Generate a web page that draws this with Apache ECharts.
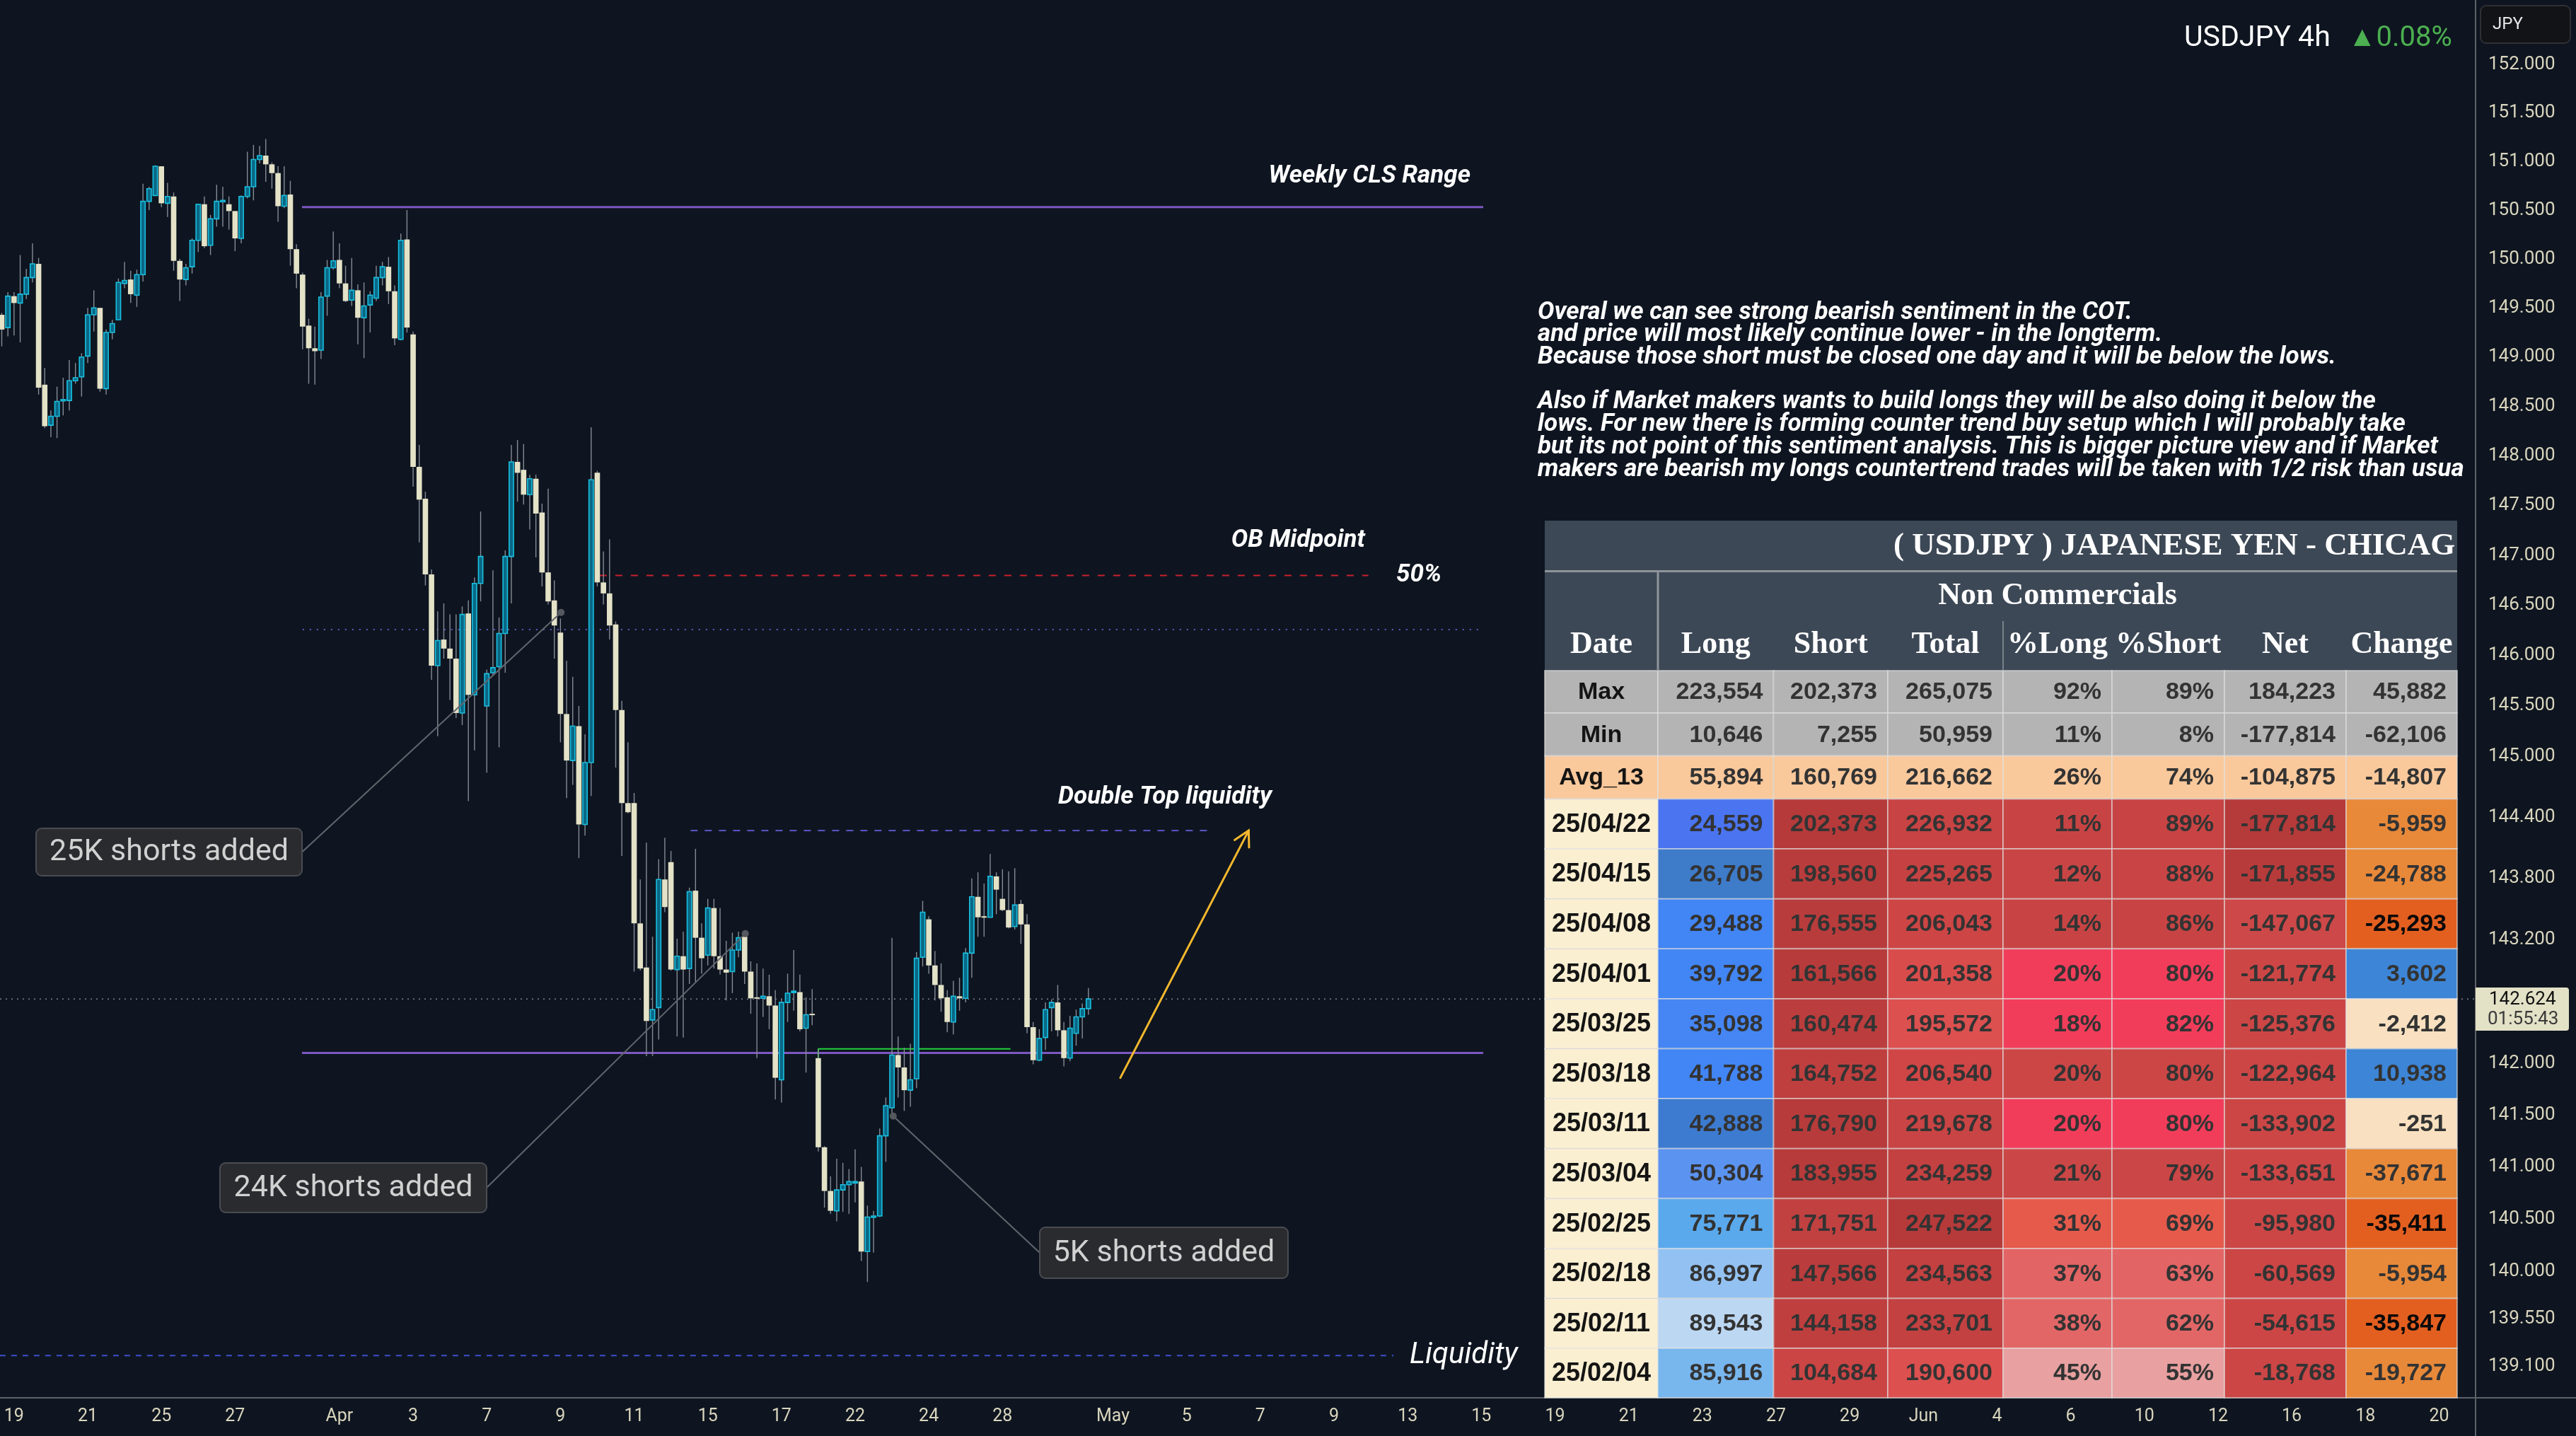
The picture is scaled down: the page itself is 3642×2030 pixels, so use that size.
<!DOCTYPE html>
<html>
<head>
<meta charset="utf-8">
<title>USDJPY 4h - COT sentiment</title>
<script src="https://cdn.jsdelivr.net/npm/echarts@6.0.0/dist/echarts.min.js"></script>
<style>
  html, body { margin: 0; padding: 0; background: #0e1520; }
  #chart { width: 3642px; height: 2030px; }
</style>
</head>
<body>
<div id="chart"></div>
<script>
// USDJPY 4h candles, oldest first
const opens = [149.43,149.30,149.62,149.55,149.64,149.81,149.95,148.72,148.31,148.40,148.56,148.56,148.76,148.80,149.01,149.43,149.50,148.68,149.25,149.38,
  149.75,149.79,149.63,149.84,150.59,150.65,150.95,150.57,150.64,149.98,149.79,149.92,150.19,150.56,150.14,150.41,150.59,150.56,150.49,150.21,
  150.64,150.74,151.02,151.06,150.97,150.88,150.54,150.66,150.10,149.84,149.32,149.09,149.07,149.62,149.91,149.99,149.75,149.58,149.68,149.40,
  149.53,149.60,149.81,149.92,149.67,149.18,150.20,149.23,147.89,147.57,146.81,145.90,146.16,146.07,145.97,145.43,146.42,145.61,146.72,145.50,
  145.83,145.89,146.22,146.99,147.94,147.86,147.61,147.77,147.43,146.83,146.55,146.23,145.42,144.96,145.30,144.33,144.94,147.83,146.73,146.62,
  146.31,145.46,144.54,144.54,143.36,142.93,142.42,142.54,143.79,143.96,142.91,143.04,142.92,143.68,143.22,143.05,143.51,143.04,142.91,142.89,
  143.10,143.23,142.89,142.64,142.63,142.65,142.56,141.84,142.59,142.69,142.69,142.34,142.48,142.05,141.19,140.77,140.58,140.78,140.83,140.85,
  140.86,140.19,140.52,140.53,141.30,141.57,142.08,141.96,141.74,141.85,143.03,143.40,142.95,142.76,142.64,142.40,142.65,142.63,143.07,143.62,
  143.43,143.42,143.82,143.60,143.49,143.33,143.55,143.35,142.35,142.03,142.25,142.54,142.59,142.32,142.05,142.29,142.45,142.53];
const highs = [149.45,149.66,149.66,150.04,149.90,150.16,150.01,148.89,148.46,148.70,148.79,148.97,148.94,149.04,149.50,149.68,149.50,149.28,149.38,149.80,
  149.97,149.88,149.89,150.77,150.74,150.96,150.95,150.78,150.68,150.00,149.95,150.21,150.56,150.64,150.45,150.76,150.74,150.64,150.49,150.65,
  151.10,151.17,151.16,151.23,150.99,150.95,150.95,150.80,150.15,149.86,149.39,149.31,149.66,149.99,150.28,150.16,149.93,150.01,149.74,149.76,
  149.67,149.93,149.97,150.02,149.73,150.26,150.50,149.26,148.11,147.64,146.86,146.44,146.52,146.41,146.41,146.49,146.55,146.78,147.44,145.86,
  146.85,146.38,147.05,148.11,148.16,148.12,147.81,147.81,147.52,147.67,146.75,146.37,145.95,145.79,145.50,145.22,148.29,147.85,147.04,147.16,
  146.34,145.55,145.14,144.64,143.79,144.15,143.23,143.99,144.20,144.07,143.21,143.28,143.71,144.09,143.36,143.60,143.60,143.51,143.19,143.27,
  143.28,143.27,142.99,142.97,142.92,142.86,142.71,142.62,142.87,143.10,142.86,142.64,142.72,142.14,141.20,140.91,141.08,141.04,140.98,141.17,
  141.00,140.63,140.58,141.37,141.67,143.22,142.26,142.15,142.19,143.08,143.58,143.43,143.09,142.97,142.71,142.80,142.83,143.12,143.80,143.86,
  143.75,144.04,143.86,143.89,143.87,143.90,143.59,143.45,142.40,142.33,142.59,142.62,142.76,142.40,142.46,142.52,142.58,142.73];
const lows = [149.11,149.21,149.22,149.15,149.59,149.76,148.62,148.28,148.19,148.18,148.41,148.46,148.73,148.60,148.94,149.26,148.65,148.62,149.18,149.38,
  149.70,149.55,149.51,149.77,150.50,150.65,150.53,150.43,149.88,149.57,149.73,149.85,150.07,150.11,150.04,150.33,150.33,150.30,150.08,150.16,
  150.62,150.60,150.98,150.79,150.72,150.38,150.52,149.93,149.70,149.08,148.73,148.72,148.98,149.42,149.89,149.70,149.56,149.52,149.13,148.99,
  149.25,149.57,149.73,149.54,149.12,149.17,149.25,147.69,147.13,146.70,145.76,145.20,145.97,145.56,145.38,145.31,144.56,145.06,146.54,144.84,
  145.80,145.09,145.83,146.52,147.54,147.51,147.26,146.98,146.69,146.51,145.97,145.14,144.59,144.72,144.00,144.22,144.61,146.69,146.51,146.16,
  144.89,144.02,144.44,142.89,142.90,142.07,142.07,142.23,143.47,142.90,142.26,142.25,142.77,142.78,142.87,142.95,142.92,142.86,142.61,142.68,
  143.03,142.77,142.48,142.05,142.45,142.33,141.65,141.62,142.40,142.51,142.31,141.91,142.37,141.15,140.61,140.55,140.48,140.57,140.55,140.66,
  140.10,139.90,140.18,140.52,141.05,141.48,141.67,141.54,141.58,141.76,142.94,142.87,142.61,142.50,142.30,142.28,142.51,142.59,142.83,143.23,
  143.23,143.42,143.45,143.48,143.31,143.30,143.16,142.29,141.99,142.02,142.13,142.31,142.26,141.97,142.02,142.17,142.24,142.47];
const closes = [149.28,149.62,149.55,149.64,149.81,149.95,148.69,148.30,148.40,148.55,148.57,148.76,148.79,149.00,149.43,149.50,148.68,149.25,149.34,149.76,
  149.78,149.64,149.84,150.59,150.72,150.95,150.57,150.64,149.98,149.79,149.91,150.19,150.56,150.13,150.41,150.59,150.60,150.49,150.21,150.64,
  150.74,151.02,151.06,150.97,150.88,150.54,150.65,150.10,149.85,149.31,149.09,149.06,149.61,149.91,149.98,149.75,149.57,149.68,149.40,149.52,
  149.63,149.81,149.92,149.67,149.19,150.19,149.30,147.89,147.56,146.81,145.90,146.15,146.07,145.97,145.43,146.41,145.61,146.72,146.99,145.82,
  145.88,146.22,146.99,147.94,147.83,147.61,147.77,147.42,146.83,146.54,146.30,145.42,144.96,145.30,144.33,144.94,147.76,146.73,146.62,146.30,
  145.46,144.54,144.45,143.36,142.92,142.41,142.52,143.79,143.52,142.91,143.04,142.91,143.67,143.22,143.02,143.51,143.04,142.91,142.88,143.10,
  143.22,142.89,142.63,142.63,142.65,142.56,141.86,142.59,142.68,142.70,142.33,142.47,142.47,141.19,140.77,140.58,140.78,140.83,140.86,140.86,
  140.19,140.52,140.53,141.30,141.59,142.08,141.96,141.74,141.84,143.02,143.47,142.95,142.76,142.63,142.40,142.65,142.63,143.07,143.62,143.42,
  143.42,143.82,143.69,143.49,143.32,143.54,143.35,142.35,142.03,142.24,142.52,142.59,142.32,142.05,142.34,142.45,142.53,142.624];

// time scale: label text and the bar index it sits on
const timeLabels = ['19','21','25','27','Apr','3','7','9','11','15','17','22','24','28','May','5','7','9','13','15','19','21','23','27','29','Jun','4','6','10','12','16','18','20'];
const timeLabelBars = [2,14,26,38,55,67,79,91,103,115,127,139,151,163,181,193,205,217,229,241,253,265,277,289,301,313,325,337,349,361,373,385,397];

// log price scale ticks
const priceTicks = [152,151.5,151,150.5,150,149.5,149,148.5,148,147.5,147,146.5,146,145.5,145,144.4,143.8,143.2,142,141.5,141,140.5,140,139.55,139.1];

// drawn levels: price and [fromBar, toBar]
const weeklyClsHigh = 150.53, weeklyClsLow = 142.10, clsSpan = [48.9, 241.3];
const obMidpoint = 146.80, obSpan = [97.4, 222.6];
const obDotted = 146.26, dottedSpan = [49.0, 241.3];
const doubleTopLevel = 144.27, doubleTopSpan = [112.2, 196.4];
const liquidityLevel = 139.20, liquiditySpan = [-0.3, 226.7];
const greenLevel = 142.14, greenBase = 142.05, greenSpan = [133, 164.3];
const lastPrice = 142.624;
const arrowFrom = [182.2, 141.86], arrowTo = [203.1, 144.27];

// callouts: text, anchor bar, anchor price
const calloutTexts = ['25K shorts added', '24K shorts added', '5K shorts added'];
const calloutBars = [91.1, 121.1, 145.2];
const calloutPrices = [146.43, 143.26, 141.49];

// COT table (Non Commercials)
const cotDates = ['25/04/22','25/04/15','25/04/08','25/04/01','25/03/25','25/03/18','25/03/11','25/03/04','25/02/25','25/02/18','25/02/11','25/02/04'];
const cotLong = [24559,26705,29488,39792,35098,41788,42888,50304,75771,86997,89543,85916];
const cotShort = [202373,198560,176555,161566,160474,164752,176790,183955,171751,147566,144158,104684];
const cotTotal = [226932,225265,206043,201358,195572,206540,219678,234259,247522,234563,233701,190600];
const cotPctLong = [11,12,14,20,18,20,20,21,31,37,38,45];
const cotPctShort = [89,88,86,80,82,80,80,79,69,63,62,55];
const cotNet = [-177814,-171855,-147067,-121774,-125376,-122964,-133902,-133651,-95980,-60569,-54615,-18768];
const cotChange = [-5959,-24788,-25293,3602,-2412,10938,-251,-37671,-35411,-5954,-35847,-19727];
const statNames = ['Max','Min','Avg_13'];
const statMax = [223554,202373,265075,92,89,184223,45882];
const statMin = [10646,7255,50959,11,8,-177814,-62106];
const statAvg = [55894,160769,216662,26,74,-104875,-14807];
const cotHeaders = ['Date','Long','Short','Total','%Long','%Short','Net','Change'];

// cell colours (heat map as shown)
const longColors = ['#4a74f0','#3e7bc9','#4285f4','#4285f4','#4586f4','#4285f4','#3d7bd0','#5b93f0','#5aa9ec','#93c2f2','#bcd7f2','#78b6ee'];
const shortColors = ['#b63a3a','#b93c3c','#b93c3c','#b83b3b','#bb3d3d','#bf3f3f','#b83b3b','#b83b3b','#c14141','#bb3c3c','#bf3f3f','#cb4545'];
const totalColors = ['#c84343','#c64242','#cd4545','#d94c4c','#dc5050','#d04646','#c94444','#c34141','#b63a3a','#c34141','#c34141','#dd5050'];
const pctColors = ['#c84444','#c94545','#c84444','#f23d5a','#f23d5a','#cc4646','#f23d5a','#cb4646','#e65a4c','#e36464','#e36666','#e8a0a0'];
const netColors = ['#b53a3a','#b83b3b','#cd4848','#cc4646','#cc4646','#cc4646','#cc4646','#cc4646','#cc4646','#cc4646','#cc4646','#cc4646'];
const changeColors = ['#e8893a','#e8893a','#e35f20','#3d85d6','#f8e0c0','#3d85d6','#f8e0c0','#e8893a','#e35f20','#e8893a','#e35f20','#e8893a'];

const ln = Math.log;
const BG = '#0e1520';
const CREAM = '#d9d5bd';

const chart = echarts.init(document.getElementById('chart'), null, {renderer: 'canvas'});

const candleData = opens.map((o, i) => [i, ln(o), ln(closes[i]), ln(lows[i]), ln(highs[i])]);

function renderCandle(params, api) {
  const i = api.value(0);
  const o = api.coord([i, api.value(1)]);
  const c = api.coord([i, api.value(2)]);
  const lo = api.coord([i, api.value(3)]);
  const hi = api.coord([i, api.value(4)]);
  const step = api.size([1, 0])[0];
  const up = api.value(2) >= api.value(1);
  const top = Math.min(o[1], c[1]);
  const h = Math.max(Math.abs(o[1] - c[1]), 2);
  const w = up ? step * 0.72 : step * 0.88;
  return {
    type: 'group',
    children: [
      {type: 'line', shape: {x1: hi[0], y1: hi[1], x2: lo[0], y2: lo[1]}, style: {stroke: '#858c96', lineWidth: 1.4}},
      {type: 'rect', shape: {x: o[0] - w / 2, y: top, width: w, height: h},
        style: up ? {fill: '#0a6886', stroke: '#19c0e0', lineWidth: 1.6} : {fill: '#e4e2c7'}}
    ]
  };
}

function renderArrow(params, api) {
  const a = api.coord([api.value(0), api.value(1)]);
  const b = api.coord([api.value(2), api.value(3)]);
  const ang = Math.atan2(b[1] - a[1], b[0] - a[0]);
  const L = 24, spread = 0.5;
  const p1 = [b[0] - L * Math.cos(ang - spread), b[1] - L * Math.sin(ang - spread)];
  const p2 = [b[0] - L * Math.cos(ang + spread), b[1] - L * Math.sin(ang + spread)];
  const st = {stroke: '#f5b82e', lineWidth: 3, lineCap: 'round'};
  return {type: 'group', children: [
    {type: 'line', shape: {x1: a[0], y1: a[1], x2: b[0], y2: b[1]}, style: st},
    {type: 'polyline', shape: {points: [p1, b, p2]}, style: Object.assign({fill: null}, st)}
  ]};
}

function level(points, color, width, dash, z) {
  return {
    type: 'line', silent: true, symbol: 'none', z: z || 1,
    data: points.map(p => [p[0], ln(p[1])]),
    lineStyle: {color: color, width: width, type: dash || 'solid'}
  };
}

const xMin = -0.288, xMax = 402.94;

chart.setOption({
  animation: false,
  backgroundColor: BG,
  grid: {left: 0, top: 0, right: 142, bottom: 54, outerBoundsMode: 'none'},
  xAxis: {
    type: 'value', min: xMin, max: xMax,
    axisLine: {show: false}, axisTick: {show: false}, splitLine: {show: false},
    axisLabel: {
      customValues: timeLabelBars,
      formatter: v => timeLabels[timeLabelBars.indexOf(Math.round(v))] || '',
      color: CREAM, fontSize: 25, fontFamily: 'Roboto', margin: 14
    }
  },
  yAxis: {
    type: 'value', position: 'right', min: ln(138.80), max: ln(152.67), scale: true,
    axisLine: {show: false}, axisTick: {show: false}, splitLine: {show: false},
    axisLabel: {
      customValues: priceTicks.map(ln),
      formatter: v => Math.exp(v).toFixed(3),
      color: CREAM, fontSize: 26, fontFamily: 'Roboto', margin: 18, align: 'left'
    }
  },
  series: [
    level([[xMin, lastPrice], [xMax, lastPrice]], '#7d838c', 1.5, [2, 6]),
    level([[liquiditySpan[0], liquidityLevel], [liquiditySpan[1], liquidityLevel]], '#3f4fd0', 2, [8, 8]),
    level([[dottedSpan[0], obDotted], [dottedSpan[1], obDotted]], '#6a56c4', 2, [2, 8]),
    level([[clsSpan[0], weeklyClsHigh], [clsSpan[1], weeklyClsHigh]], '#7e57c2', 3),
    level([[clsSpan[0], weeklyClsLow], [clsSpan[1], weeklyClsLow]], '#7e57c2', 3),
    level([[obSpan[0], obMidpoint], [obSpan[1], obMidpoint]], '#c8202c', 2, [10, 12]),
    level([[doubleTopSpan[0], doubleTopLevel], [doubleTopSpan[1], doubleTopLevel]], '#5d55c8', 2, [10, 10]),
    level([[greenSpan[0], greenBase], [greenSpan[0], greenLevel], [greenSpan[1], greenLevel]], '#22d13a', 2, 'solid', 3),
    {
      type: 'custom', renderItem: renderCandle, data: candleData, z: 4, clip: true,
      encode: {x: 0, y: [1, 2, 3, 4]}
    },
    {
      type: 'custom', renderItem: renderArrow, z: 5,
      data: [[arrowFrom[0], ln(arrowFrom[1]), arrowTo[0], ln(arrowTo[1])]],
      encode: {x: [0, 2], y: [1, 3]}
    }
  ]
});

// ---------- overlay: texts, callouts, price/time axis chrome, COT table ----------
const g = [];
function txt(text, x, y, font, fill, align, z) {
  g.push({type: 'text', z: z || 100, silent: true, style: {
    text: text, x: x, y: y, font: font, fill: fill,
    align: align || 'left', textAlign: align || 'left', verticalAlign: 'middle', textVerticalAlign: 'middle'
  }});
}
function rect(x, y, w, h, fill, stroke, lw, r, z) {
  g.push({type: 'rect', z: z || 100, silent: true, shape: {x: x, y: y, width: w, height: h, r: r || 0},
    style: {fill: fill, stroke: stroke || null, lineWidth: lw || 0}});
}
function seg(x1, y1, x2, y2, color, w, z) {
  g.push({type: 'line', z: z || 100, silent: true, shape: {x1: x1, y1: y1, x2: x2, y2: y2}, style: {stroke: color, lineWidth: w}});
}

// axis frame
seg(3500, 0, 3500, 2030, '#5e6168', 2, 90);
seg(0, 1976, 3642, 1976, '#5e6168', 2, 90);

// chart labels
const noteFont = 'italic bold 35px Roboto';
txt('Weekly CLS Range', 2079, 249, noteFont, '#ffffff', 'right');
txt('OB Midpoint', 1930, 764, noteFont, '#ffffff', 'right');
txt('50%', 1974, 813, noteFont, '#ffffff');
txt('Double Top liquidity', 1496, 1127, noteFont, '#ffffff');
txt('Liquidity', 1993, 1916, 'italic 42px Roboto', '#ffffff');

// callouts
const boxes = [[51, 1171, 376, 67], [311, 1644, 377, 70], [1470, 1735, 351, 72]];
const boxSides = ['right', 'right', 'left'];
calloutTexts.forEach((t, k) => {
  const p = chart.convertToPixel({gridIndex: 0}, [calloutBars[k], ln(calloutPrices[k])]);
  const b = boxes[k];
  const sx = boxSides[k] === 'right' ? b[0] + b[2] : b[0];
  const sy = b[1] + b[3] / 2;
  seg(sx, sy, p[0], p[1], '#62656c', 2, 95);
  g.push({type: 'circle', z: 96, silent: true, shape: {cx: p[0], cy: p[1], r: 5}, style: {fill: '#55585e'}});
  rect(b[0], b[1], b[2], b[3], '#2a2b2f', '#4a4c51', 2, 8, 97);
  txt(t, b[0] + b[2] / 2, sy + 1, '43px Roboto', '#d1d1d1', 'center', 98);
});

// commentary block
g.push({type: 'text', z: 100, silent: true, style: {
  text: 'Overal we can see strong bearish sentiment in the COT.\n' +
        'and price will most likely continue lower - in the longterm.\n' +
        'Because those short must be closed one day and it will be below the lows.\n' +
        '\n' +
        'Also if Market makers wants to build longs they will be also doing it below the\n' +
        'lows. For new there is forming counter trend buy setup which I will probably take\n' +
        'but its not point of this sentiment analysis. This is bigger picture view and if Market\n' +
        'makers are bearish my longs countertrend trades will be taken with 1/2 risk than usua',
  x: 2174, y: 426, font: 'italic bold 35px Roboto', fill: '#ffffff', lineHeight: 31.7,
  align: 'left', textAlign: 'left', verticalAlign: 'top', textVerticalAlign: 'top'
}});

// header top right
txt('USDJPY 4h', 3088, 55, '41px Roboto', '#ffffff');
txt('\u25B20.08%', 3320, 55, '40px Roboto', '#4caf50');
rect(3507, 8, 127, 53, '#121316', '#2e3035', 2, 8);
txt('JPY', 3524, 35, '24px Roboto', '#e6e6e6');

// last price tag
rect(3500, 1396, 132, 61, '#e3e1c6', null, 0, [0, 4, 4, 0]);
txt('142.624', 3519, 1413, '26px Roboto', '#111111');
txt('01:55:43', 3517, 1441, '26px Roboto', '#3a3a3a');

// COT table
const colX = [2184, 2344, 2507.5, 2669, 2832, 2986, 3145, 3317, 3474];
const TZ = 110;
rect(2184, 736, 1290, 212, '#3d4856', null, 0, 0, TZ);
txt('( USDJPY ) JAPANESE YEN - CHICAG', 2677, 772, 'bold 45px "Liberation Serif"', '#ffffff', 'left', TZ + 1);
seg(2184, 807.5, 3474, 807.5, '#8f949b', 3, TZ + 1);
seg(2344, 807, 2344, 948, '#8f949b', 3, TZ + 1);
seg(2832, 878, 2832, 948, '#8f949b', 1.5, TZ + 1);
txt('Non Commercials', 2909, 843, 'bold 44px "Liberation Serif"', '#ffffff', 'center', TZ + 1);
cotHeaders.forEach((h, c) => {
  txt(h, (colX[c] + colX[c + 1]) / 2, 912, 'bold 44px "Liberation Serif"', '#ffffff', 'center', TZ + 1);
});

function fmtCell(v, c) {
  return (c === 3 || c === 4) ? v + '%' : v.toLocaleString('en-US');
}
const cellFont = 'bold 34px "Liberation Sans", Arial, sans-serif';
const cellBorder = 'rgba(225,225,225,0.55)';
function drawRow(y, h, name, nameFill, values, fills, textFills, nameFont) {
  rect(colX[0], y, colX[1] - colX[0], h, nameFill, cellBorder, 2, 0, TZ);
  txt(name, (colX[0] + colX[1]) / 2, y + h / 2 + 1, nameFont || cellFont, '#141414', 'center', TZ + 1);
  values.forEach((v, c) => {
    rect(colX[c + 1], y, colX[c + 2] - colX[c + 1], h, fills[c], cellBorder, 2, 0, TZ);
    txt(fmtCell(v, c), colX[c + 2] - 15, y + h / 2 + 1, cellFont, textFills[c], 'right', TZ + 1);
  });
}
const grey7 = Array(7).fill('#b4b4b4');
const peach7 = Array(7).fill('#f9c89b');
const dark7 = Array(7).fill('#333333');
drawRow(948, 60, statNames[0], '#b4b4b4', statMax, grey7, dark7);
drawRow(1008, 60.5, statNames[1], '#b4b4b4', statMin, grey7, dark7);
drawRow(1068.5, 61, statNames[2], '#f9c89b', statAvg, peach7, dark7);
cotDates.forEach((d, r) => {
  const y = 1129.5 + r * 70.6;
  const h = Math.min(70.6, 1976 - y);
  const vals = [cotLong[r], cotShort[r], cotTotal[r], cotPctLong[r], cotPctShort[r], cotNet[r], cotChange[r]];
  const fills = [longColors[r], shortColors[r], totalColors[r], pctColors[r], pctColors[r], netColors[r], changeColors[r]];
  const tf = dark7.slice();
  if (changeColors[r] === '#e35f20') tf[6] = '#0a0a0a';
  drawRow(y, h, d, '#fbefd2', vals, fills, tf, 'bold 36px "Liberation Sans", Arial, sans-serif');
});

chart.setOption({graphic: {elements: g}});
</script>
</body>
</html>
